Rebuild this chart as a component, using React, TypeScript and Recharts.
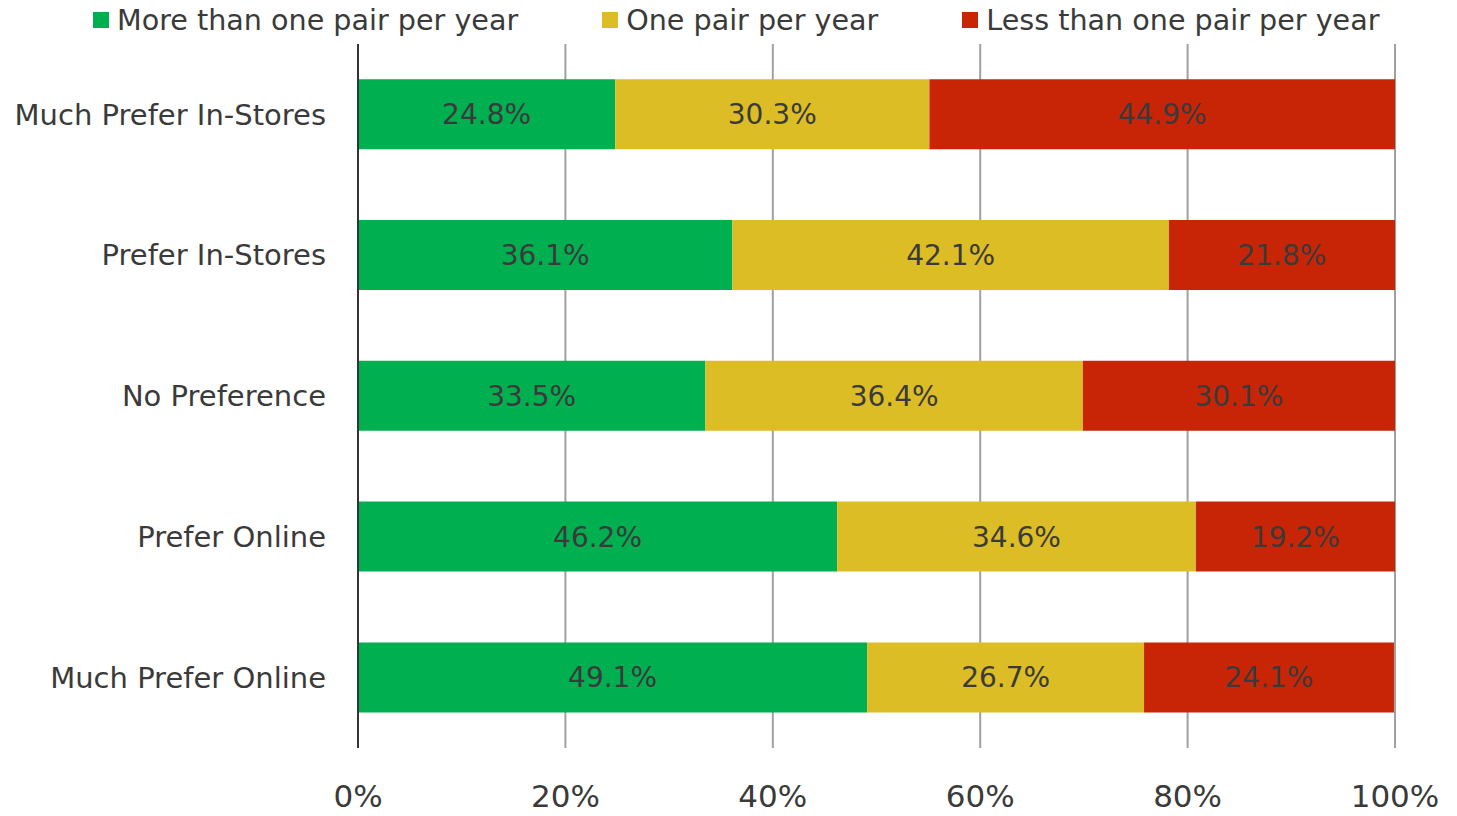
import React from 'react';
import { BarChart, Bar, XAxis, YAxis, CartesianGrid, Legend, LabelList } from 'recharts';

const categories = ['Much Prefer In-Stores', 'Prefer In-Stores', 'No Preference', 'Prefer Online', 'Much Prefer Online'];
const moreThanOne = [24.8, 36.1, 33.5, 46.2, 49.1];
const onePair = [30.3, 42.1, 36.4, 34.6, 26.7];
const lessThanOne = [44.9, 21.8, 30.1, 19.2, 24.1];
const xTicks = [0, 20, 40, 60, 80, 100];

const SERIES = [
  { key: 'more', name: 'More than one pair per year', color: '#00B050' },
  { key: 'one', name: 'One pair per year', color: '#DDBD25' },
  { key: 'less', name: 'Less than one pair per year', color: '#C82506' },
];

const data = categories.map((name, i) => ({
  name,
  more: moreThanOne[i],
  one: onePair[i],
  less: lessThanOne[i],
}));

const FONT = '"DejaVu Sans", Verdana, sans-serif';
const TEXT = '#3a3a3a';

const LegendContent = () => (
  <div style={{ display: 'flex', paddingLeft: 93, gap: 84, fontFamily: FONT, fontSize: 28.6, lineHeight: '34px', color: TEXT }}>
    {SERIES.map((s) => (
      <div key={s.key} style={{ display: 'flex', alignItems: 'center' }}>
        <span style={{ display: 'inline-block', width: 16, height: 16, background: s.color, marginRight: 8 }} />
        <span>{s.name}</span>
      </div>
    ))}
  </div>
);

const App: React.FC = () => {
  return (
    <div style={{ position: 'absolute', left: 0, top: 0, background: '#fff' }}>
      <BarChart
        width={1457}
        height={816}
        data={data}
        layout="vertical"
        margin={{ top: 10, right: 62, left: 0, bottom: 0 }}
        barCategoryGap="25%"
      >
        <CartesianGrid horizontal={false} stroke="#a0a0a0" strokeWidth={2} />
        <XAxis
          type="number"
          domain={[0, 100]}
          ticks={xTicks}
          tickFormatter={(v: number) => `${v}%`}
          axisLine={false}
          tickLine={false}
          height={68}
          tickMargin={31}
          tick={{ fill: TEXT, fontSize: 31, fontFamily: FONT }}
          interval={0}
        />
        <YAxis
          type="category"
          dataKey="name"
          width={358}
          axisLine={{ stroke: '#333333', strokeWidth: 2 }}
          tickLine={false}
          tickSize={0}
          tickMargin={32}
          tick={{ fill: TEXT, fontSize: 29, fontFamily: FONT }}
          interval={0}
        />
        <Legend verticalAlign="top" content={<LegendContent />} wrapperStyle={{ top: 3, left: 0, width: 1457 }} />
        {SERIES.map((s) => (
          <Bar key={s.key} dataKey={s.key} name={s.name} stackId="a" fill={s.color} isAnimationActive={false}>
            <LabelList
              dataKey={s.key}
              position="center"
              formatter={(v: number) => `${v}%`}
              fill={TEXT}
              fontSize={28}
              fontFamily={FONT}
            />
          </Bar>
        ))}
      </BarChart>
    </div>
  );
};

export default App;
